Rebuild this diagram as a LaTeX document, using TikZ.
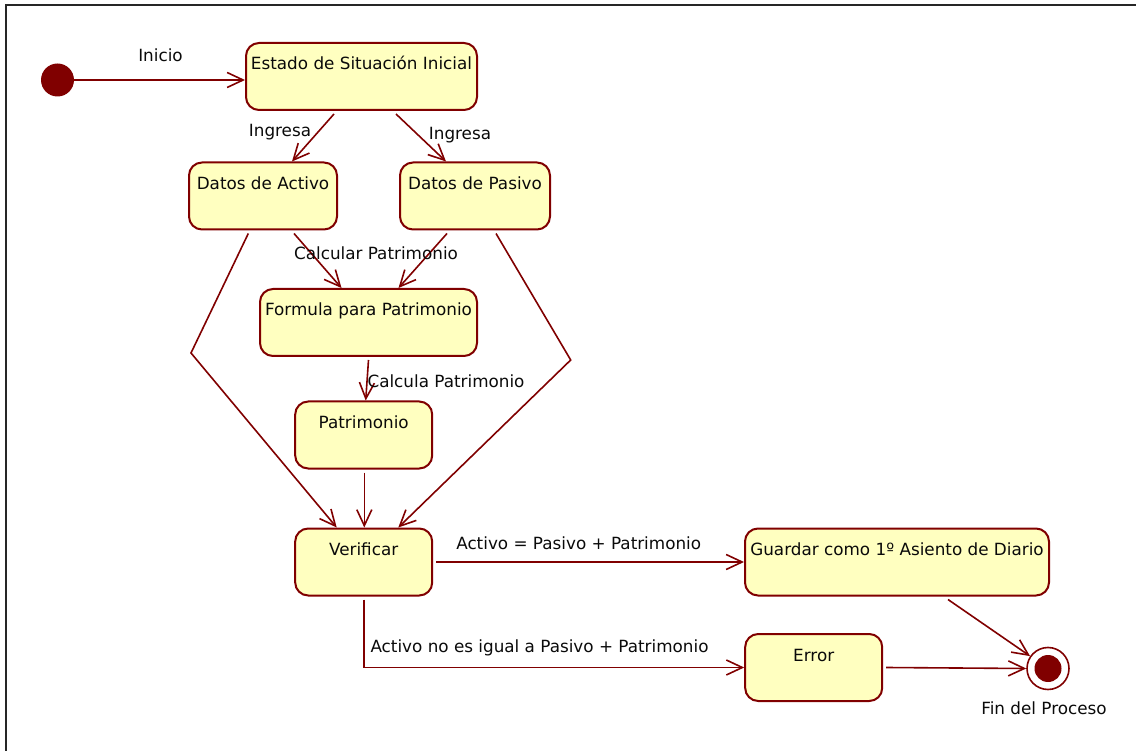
\documentclass[tikz,border=0pt]{standalone}
\usepackage{fontspec}
\setmainfont{DejaVu Sans}
\usetikzlibrary{arrows.meta}
\definecolor{Maroon}{HTML}{800000}
\definecolor{StateFill}{HTML}{FFFFC0}
\definecolor{Ink}{HTML}{0A0A0A}

\begin{document}
\begin{tikzpicture}[x=1pt,y=-1pt,
    every node/.style={font=\fontsize{16.8}{20}\selectfont,text=Ink},
    state/.style={draw=Maroon,fill=StateFill,line width=2pt,
      rounded corners=13pt,text height=23pt,text depth=36pt,
      inner ysep=4pt,inner xsep=4pt},
    trans/.style={draw=Maroon,line width=1.6pt,
      -{Straight Barb[length=16pt,width=15pt]}}]
  \useasboundingbox (0,0) rectangle (1136,751);
  \draw[line width=2pt,black!85] (5.5,760) -- (5.5,5) -- (1145,5);

  % initial and final states
  \node[circle,fill=Maroon,minimum size=33pt,inner sep=0pt] (init) at (57.5,80) {};
  \node[circle,draw=Maroon,fill=white,line width=1.6pt,minimum size=42pt,inner sep=0pt,
    path picture={\fill[Maroon] (path picture bounding box.center) circle (13.5pt);}]
    (fin) at (1048,668.5) {};
  \node (finlbl) at (1044,708) {Fin del Proceso};

  % states
  \node[state,minimum width=231pt] (estado) at (361.5,76.5) {Estado de Situación Inicial};
  \node[state,minimum width=148pt] (activo) at (263,196) {Datos de Activo};
  \node[state,minimum width=150pt] (pasivo) at (475,196) {Datos de Pasivo};
  \node[state,minimum width=217pt] (formula) at (368.5,322.5) {Formula para Patrimonio};
  \node[state,minimum width=137pt] (patrimonio) at (363.7,435) {Patrimonio};
  \node[state,minimum width=137pt] (verificar) at (363.7,562) {Verificar};
  \node[state,minimum width=304pt] (guardar) at (897,562) {Guardar como 1º Asiento de Diario};
  \node[state,minimum width=137pt] (error) at (813.7,667.5) {Error};

  % transitions
  \draw[trans] (init) -- (init -| estado.west);
  \draw[trans] ([xshift=-27.5pt,yshift=-3pt]estado.south) -- ([xshift=29pt]activo.north);
  \draw[trans] ([xshift=34.5pt,yshift=-3pt]estado.south) -- ([xshift=-29pt]pasivo.north);
  \draw[trans] ([xshift=31pt,yshift=-3pt]activo.south) -- ([xshift=-27pt]formula.north);
  \draw[trans] ([xshift=-28pt,yshift=-3pt]pasivo.south) -- ([xshift=30pt]formula.north);
  \draw[trans] ([yshift=-3pt]formula.south) -- ([xshift=2pt]patrimonio.north);
  \draw[trans] ([xshift=0.6pt,yshift=-3pt]patrimonio.south) -- ([xshift=0.6pt]verificar.north);
  \draw[trans] ([xshift=-14.7pt,yshift=-3pt]activo.south) -- (191,353)
    -- ([xshift=-27pt]verificar.north);
  \draw[trans] ([xshift=21pt,yshift=-3pt]pasivo.south) -- (570.7,360)
    -- ([xshift=34.6pt]verificar.north);
  \draw[trans] ([xshift=3pt]verificar.east) -- (guardar.west);
  \draw[trans] ([yshift=-3pt]verificar.south) |- (error.west);
  \draw[trans] ([xshift=51pt,yshift=-3pt]guardar.south) -- (fin);
  \draw[trans] ([xshift=3pt]error.east) -- (fin.west);

  % transition labels
  \node (lblinicio) at (160.5,55) {Inicio};
  \node (lblingresaa) at (280,132) {Ingresa};
  \node (lblingresap) at (460,135) {Ingresa};
  \node (lblcalcular) at (376,253) {Calcular Patrimonio};
  \node (lblcalcula) at (446,381) {Calcula Patrimonio};
  \node (lbligual) at (578.7,543) {Activo = Pasivo + Patrimonio};
  \node (lblnoigual) at (539.5,648) {Activo no es igual a Pasivo + Patrimonio};
\end{tikzpicture}
\end{document}
